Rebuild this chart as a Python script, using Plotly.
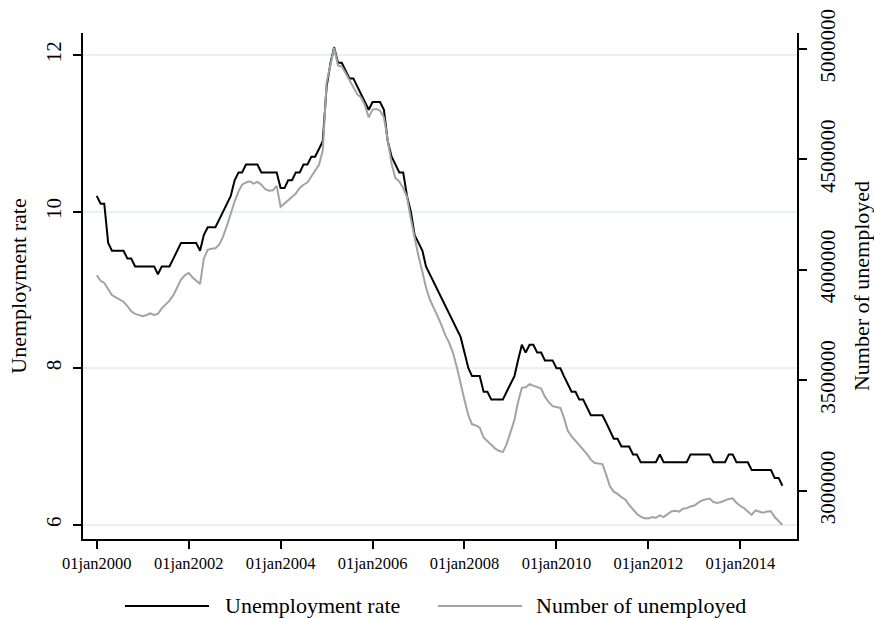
import pandas as pd
import plotly.graph_objects as go

# Monthly series, January 2000 to December 2014
dates = pd.date_range("2000-01-01", periods=180, freq="MS")

unemployment_rate = [
    10.2, 10.1, 10.1, 9.6, 9.5, 9.5, 9.5, 9.5, 9.4, 9.4, 9.3, 9.3,
    9.3, 9.3, 9.3, 9.3, 9.2, 9.3, 9.3, 9.3, 9.4, 9.5, 9.6, 9.6,
    9.6, 9.6, 9.6, 9.5, 9.7, 9.8, 9.8, 9.8, 9.9, 10.0, 10.1, 10.2,
    10.4, 10.5, 10.5, 10.6, 10.6, 10.6, 10.6, 10.5, 10.5, 10.5, 10.5, 10.5,
    10.3, 10.3, 10.4, 10.4, 10.5, 10.5, 10.6, 10.6, 10.7, 10.7, 10.8, 10.9,
    11.6, 11.9, 12.1, 11.9, 11.9, 11.8, 11.7, 11.7, 11.6, 11.5, 11.4, 11.3,
    11.4, 11.4, 11.4, 11.3, 10.9, 10.7, 10.6, 10.5, 10.5, 10.2, 10.0, 9.7,
    9.6, 9.5, 9.3, 9.2, 9.1, 9.0, 8.9, 8.8, 8.7, 8.6, 8.5, 8.4,
    8.2, 8.0, 7.9, 7.9, 7.9, 7.7, 7.7, 7.6, 7.6, 7.6, 7.6, 7.7,
    7.8, 7.9, 8.1, 8.3, 8.2, 8.3, 8.3, 8.2, 8.2, 8.1, 8.1, 8.1,
    8.0, 8.0, 7.9, 7.8, 7.7, 7.7, 7.6, 7.6, 7.5, 7.4, 7.4, 7.4,
    7.4, 7.3, 7.2, 7.1, 7.1, 7.0, 7.0, 7.0, 6.9, 6.9, 6.8, 6.8,
    6.8, 6.8, 6.8, 6.9, 6.8, 6.8, 6.8, 6.8, 6.8, 6.8, 6.8, 6.9,
    6.9, 6.9, 6.9, 6.9, 6.9, 6.8, 6.8, 6.8, 6.8, 6.9, 6.9, 6.8,
    6.8, 6.8, 6.8, 6.7, 6.7, 6.7, 6.7, 6.7, 6.7, 6.6, 6.6, 6.5,
]

number_unemployed = [
    3975000, 3950000, 3940000, 3915000, 3885000, 3875000, 3865000, 3855000, 3835000, 3812000, 3800000, 3795000,
    3790000, 3795000, 3802000, 3795000, 3800000, 3825000, 3840000, 3860000, 3885000, 3920000, 3955000, 3975000,
    3985000, 3965000, 3950000, 3935000, 4050000, 4090000, 4095000, 4097000, 4115000, 4150000, 4200000, 4260000,
    4310000, 4355000, 4385000, 4395000, 4400000, 4390000, 4398000, 4385000, 4365000, 4358000, 4360000, 4380000,
    4285000, 4300000, 4315000, 4330000, 4345000, 4370000, 4385000, 4395000, 4420000, 4445000, 4475000, 4540000,
    4850000, 4930000, 5005000, 4925000, 4920000, 4890000, 4860000, 4830000, 4795000, 4780000, 4745000, 4690000,
    4725000, 4728000, 4720000, 4690000, 4580000, 4480000, 4415000, 4400000, 4370000, 4330000, 4230000, 4140000,
    4060000, 3990000, 3920000, 3865000, 3830000, 3790000, 3750000, 3705000, 3670000, 3625000, 3560000, 3480000,
    3410000, 3340000, 3300000, 3295000, 3285000, 3240000, 3225000, 3205000, 3190000, 3180000, 3174000, 3210000,
    3260000, 3320000, 3400000, 3465000, 3468000, 3482000, 3475000, 3468000, 3462000, 3425000, 3400000, 3382000,
    3378000, 3374000, 3330000, 3270000, 3245000, 3225000, 3205000, 3185000, 3165000, 3140000, 3125000, 3122000,
    3120000, 3070000, 3020000, 2995000, 2985000, 2970000, 2960000, 2935000, 2912000, 2895000, 2882000, 2875000,
    2874000, 2880000, 2876000, 2888000, 2880000, 2892000, 2905000, 2908000, 2904000, 2918000, 2920000, 2928000,
    2932000, 2945000, 2955000, 2960000, 2964000, 2948000, 2944000, 2948000, 2955000, 2962000, 2965000, 2945000,
    2930000, 2920000, 2905000, 2890000, 2910000, 2906000, 2900000, 2905000, 2906000, 2880000, 2862000, 2844000,
]

x_tick_dates = ["2000-01-01", "2002-01-01", "2004-01-01", "2006-01-01",
                "2008-01-01", "2010-01-01", "2012-01-01", "2014-01-01"]
x_tick_labels = ["01jan2000", "01jan2002", "01jan2004", "01jan2006",
                 "01jan2008", "01jan2010", "01jan2012", "01jan2014"]
rate_ticks = [6, 8, 10, 12]
count_ticks = [3000000, 3500000, 4000000, 4500000, 5000000]

legend_names = ["Unemployment rate", "Number of unemployed"]
line_colors = ["#000000", "#a3a3a3"]

FONT = "Liberation Serif, Times New Roman, serif"
AXIS_COLOR = "#000000"

fig = go.Figure()

fig.add_trace(go.Scatter(
    x=dates, y=number_unemployed, name=legend_names[1], mode="lines",
    line=dict(color=line_colors[1], width=2), yaxis="y2",
))
fig.add_trace(go.Scatter(
    x=dates, y=unemployment_rate, name=legend_names[0], mode="lines",
    line=dict(color=line_colors[0], width=2), yaxis="y",
))

fig.update_layout(
    width=874, height=618,
    margin=dict(l=83, r=77, t=33, b=79),
    paper_bgcolor="white", plot_bgcolor="white",
    font=dict(family=FONT, size=22, color="black"),
    showlegend=False,
    xaxis=dict(
        range=["1999-09-14", "2015-03-27"],
        tickvals=x_tick_dates, ticktext=x_tick_labels,
        tickfont=dict(size=16.5), automargin=False,
        showgrid=False, zeroline=False,
        showline=True, linecolor=AXIS_COLOR, linewidth=1.5,
        ticks="outside", ticklen=8, tickwidth=1.5, tickcolor=AXIS_COLOR,
    ),
    yaxis=dict(
        range=[5.82, 12.28],
        tickvals=rate_ticks, tickangle=-90,
        tickfont=dict(size=21), ticklabelstandoff=4, automargin=False,
        showgrid=True, gridcolor="#e8f0f2", gridwidth=1.5,
        zeroline=False,
        showline=True, linecolor=AXIS_COLOR, linewidth=1.5,
        ticks="outside", ticklen=8, tickwidth=1.5, tickcolor=AXIS_COLOR,
        title=dict(text="Unemployment rate", font=dict(size=22), standoff=9),
    ),
    yaxis2=dict(
        range=[2780600, 5072000],
        overlaying="y", side="right",
        tickvals=count_ticks, tickformat="d", tickangle=-90,
        tickfont=dict(size=21), ticklabelstandoff=3, automargin=False,
        showgrid=False, zeroline=False,
        showline=True, linecolor=AXIS_COLOR, linewidth=1.5,
        ticks="outside", ticklen=8, tickwidth=1.5, tickcolor=AXIS_COLOR,
        title=dict(text="Number of unemployed", font=dict(size=22), standoff=15),
    ),
)

# Legend row beneath the plot: sample line followed by its label
legend_y = -0.1324
legend_items = [
    (0.0588, 0.1765, 0.196),
    (0.4972, 0.6148, 0.6317),
]
for (x0, x1, xt), name, color in zip(legend_items, legend_names, line_colors):
    fig.add_shape(type="line", xref="paper", yref="paper",
                  x0=x0, x1=x1, y0=legend_y, y1=legend_y,
                  line=dict(color=color, width=2))
    fig.add_annotation(xref="paper", yref="paper", x=xt, y=legend_y,
                       text=name, showarrow=False, xanchor="left", yanchor="middle",
                       font=dict(size=22, family=FONT))

fig.write_html("out.html")
